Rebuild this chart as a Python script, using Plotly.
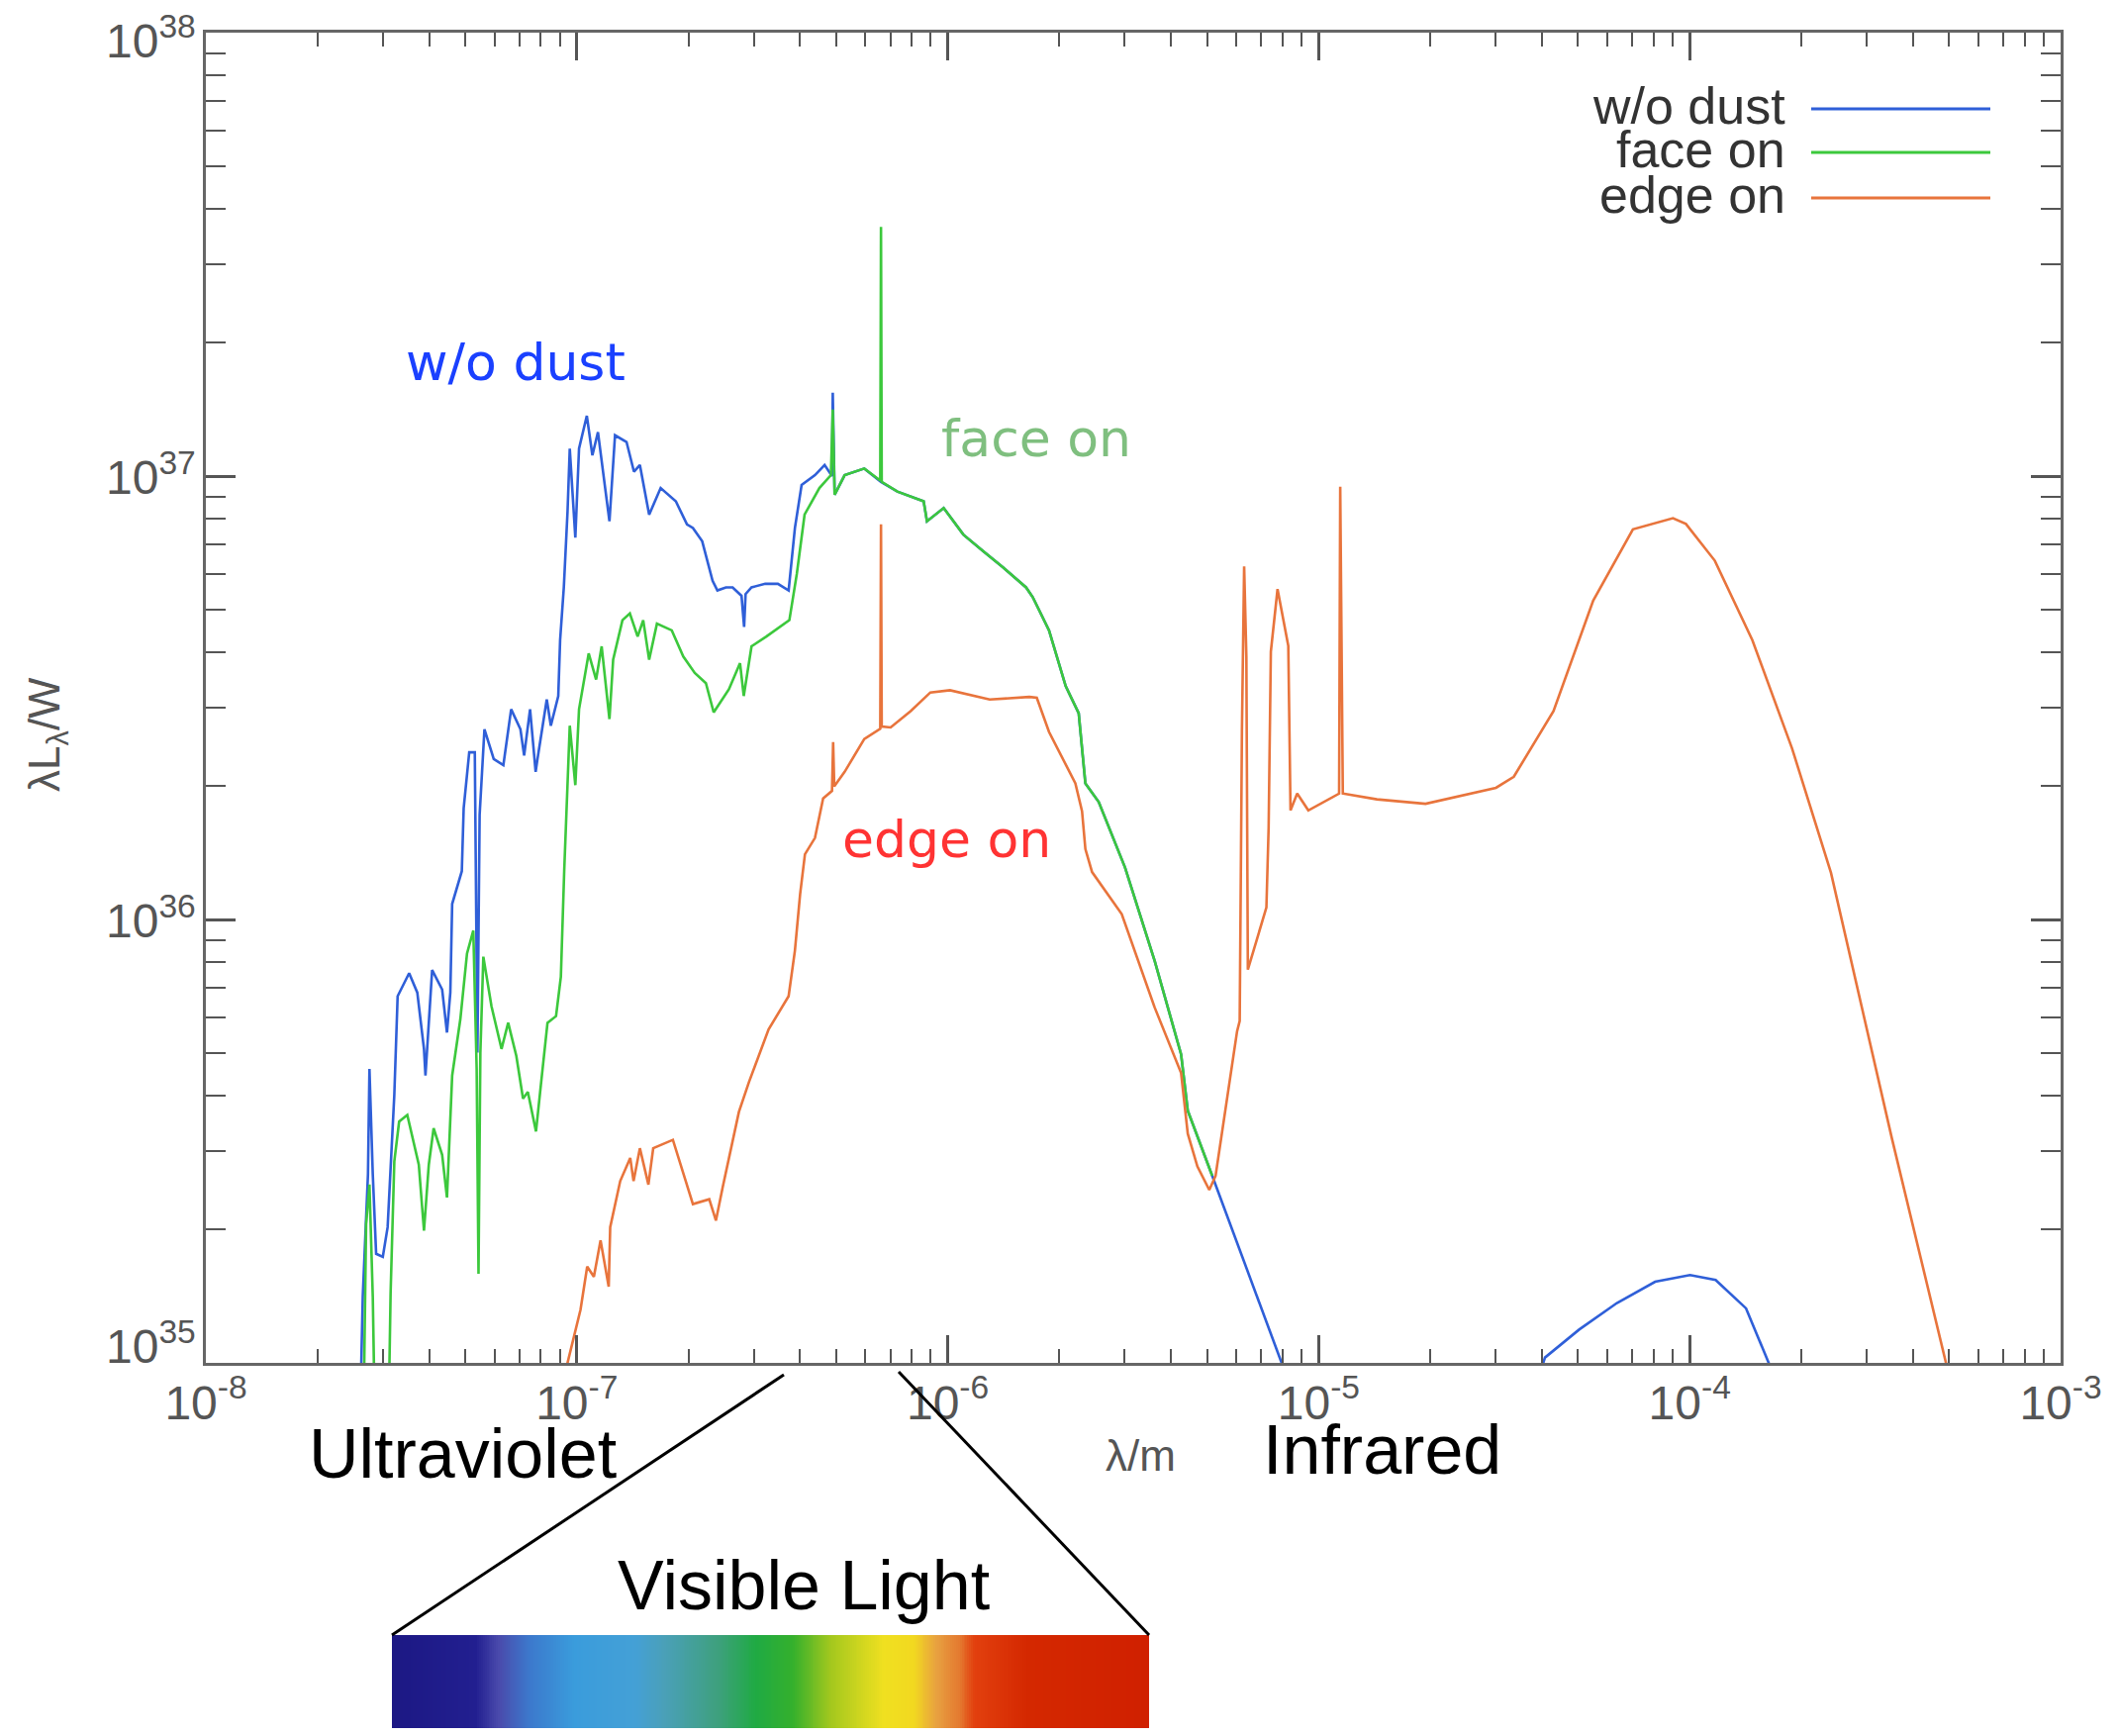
import numpy as np
import plotly.graph_objects as go

# ---------------- data (log10 of wavelength in m, log10 of lambda*L_lambda in W) -------------
wodust_log_lambda = [-7.590, -7.581, -7.577, -7.563, -7.559, -7.554, -7.550, -7.541, -7.523, -7.510,
                     -7.492, -7.483, -7.452, -7.430, -7.412, -7.408, -7.390, -7.363, -7.350, -7.341,
                     -7.336, -7.310, -7.305, -7.290, -7.275, -7.268, -7.262, -7.249, -7.224, -7.198,
                     -7.177, -7.152, -7.142, -7.126, -7.111, -7.106, -7.081, -7.070, -7.050, -7.045,
                     -7.035, -7.025, -7.019, -7.004, -6.994, -6.973, -6.958, -6.943, -6.912, -6.897,
                     -6.866, -6.846, -6.830, -6.805, -6.774, -6.733, -6.703, -6.687, -6.662, -6.634,
                     -6.621, -6.598, -6.580, -6.556, -6.549, -6.545, -6.529, -6.492, -6.458, -6.429,
                     -6.412, -6.394, -6.358, -6.332, -6.312, -6.310, -6.305, -6.278, -6.225, -6.180,
                     -6.136, -6.065, -6.056, -6.011, -5.958, -5.905, -5.851, -5.789, -5.771, -5.727,
                     -5.682, -5.647, -5.629, -5.593, -5.522, -5.442, -5.371, -5.353, -5.287, -5.100,
                     -5.090, -4.410, -4.390, -4.298, -4.196, -4.093, -3.999, -3.930, -3.848, -3.787,
                     -3.780]
wodust_log_L = [34.90, 35.000, 35.149, 35.425, 35.663, 35.514, 35.425, 35.246, 35.239, 35.306,
                35.604, 35.827, 35.879, 35.835, 35.708, 35.648, 35.886, 35.842, 35.745, 35.835,
                36.035, 36.109, 36.251, 36.377, 36.377, 35.700, 36.236, 36.429, 36.362, 36.348,
                36.474, 36.429, 36.370, 36.474, 36.333, 36.362, 36.496, 36.437, 36.504, 36.630,
                36.749, 36.920, 37.062, 36.861, 37.062, 37.136, 37.047, 37.099, 36.898, 37.092,
                37.077, 37.010, 37.025, 36.913, 36.973, 36.943, 36.891, 36.883, 36.853, 36.764,
                36.742, 36.749, 36.749, 36.730, 36.660, 36.734, 36.749, 36.757, 36.757, 36.742,
                36.883, 36.980, 37.002, 37.025, 37.000, 37.188, 36.958, 37.002, 37.017, 36.987,
                36.965, 36.943, 36.898, 36.928, 36.868, 36.831, 36.794, 36.749, 36.727, 36.652,
                36.526, 36.465, 36.307, 36.265, 36.117, 35.906, 35.696, 35.569, 35.422, 35.000,
                34.977, 34.960, 35.012, 35.075, 35.135, 35.183, 35.198, 35.187, 35.123, 35.000,
                34.980]

faceon_log_lambda = [-7.580, -7.573, -7.568, -7.559, -7.550, -7.546, -7.506, -7.502, -7.492, -7.479,
                     -7.457, -7.426, -7.412, -7.399, -7.386, -7.363, -7.350, -7.336, -7.314, -7.296,
                     -7.279, -7.270, -7.265, -7.260, -7.252, -7.230, -7.203, -7.185, -7.163, -7.145,
                     -7.132, -7.110, -7.097, -7.079, -7.056, -7.043, -7.034, -7.019, -7.004, -6.994,
                     -6.968, -6.948, -6.933, -6.912, -6.902, -6.877, -6.857, -6.836, -6.821, -6.805,
                     -6.784, -6.744, -6.713, -6.682, -6.652, -6.631, -6.590, -6.560, -6.550, -6.529,
                     -6.489, -6.427, -6.407, -6.386, -6.346, -6.315, -6.310, -6.305, -6.278, -6.225,
                     -6.182, -6.180, -6.178, -6.136, -6.065, -6.056, -6.011, -5.958, -5.905, -5.851,
                     -5.789, -5.771, -5.727, -5.682, -5.647, -5.629, -5.593, -5.522, -5.442, -5.371,
                     -5.353, -5.287]
faceon_log_L = [34.90, 35.000, 35.313, 35.402, 35.149, 34.950, 34.950, 35.157, 35.454, 35.544,
                35.559, 35.447, 35.298, 35.447, 35.529, 35.469, 35.373, 35.648, 35.775, 35.923,
                35.975, 35.663, 35.201, 35.700, 35.916, 35.804, 35.708, 35.767, 35.692, 35.596,
                35.611, 35.522, 35.626, 35.767, 35.782, 35.871, 36.109, 36.437, 36.303, 36.474,
                36.600, 36.541, 36.616, 36.452, 36.586, 36.675, 36.690, 36.638, 36.675, 36.586,
                36.667, 36.652, 36.593, 36.556, 36.533, 36.467, 36.519, 36.578, 36.504, 36.616,
                36.638, 36.675, 36.779, 36.913, 36.973, 37.002, 37.150, 36.958, 37.002, 37.017,
                36.990, 37.562, 36.987, 36.965, 36.943, 36.898, 36.928, 36.868, 36.831, 36.794,
                36.749, 36.727, 36.652, 36.526, 36.465, 36.307, 36.265, 36.117, 35.906, 35.696,
                35.569, 35.422]

edgeon_log_lambda = [-7.030, -7.025, -6.990, -6.972, -6.954, -6.936, -6.914, -6.910, -6.883, -6.856,
                     -6.847, -6.830, -6.807, -6.794, -6.741, -6.687, -6.643, -6.625, -6.607, -6.572,
                     -6.563, -6.536, -6.483, -6.429, -6.412, -6.398, -6.385, -6.358, -6.336, -6.312,
                     -6.309, -6.306, -6.278, -6.225, -6.182, -6.180, -6.178, -6.154, -6.100, -6.047,
                     -5.994, -5.887, -5.780, -5.760, -5.727, -5.656, -5.638, -5.629, -5.611, -5.531,
                     -5.442, -5.371, -5.353, -5.327, -5.295, -5.278, -5.220, -5.213, -5.207, -5.201,
                     -5.195, -5.191, -5.141, -5.135, -5.129, -5.111, -5.094, -5.082, -5.076, -5.058,
                     -5.028, -4.963, -4.945, -4.942, -4.935, -4.843, -4.712, -4.522, -4.474, -4.367,
                     -4.260, -4.153, -4.045, -4.010, -3.932, -3.831, -3.724, -3.619, -3.539, -3.455,
                     -3.309, -3.300]
edgeon_log_L = [34.90, 35.000, 35.120, 35.217, 35.194, 35.276, 35.172, 35.306, 35.410, 35.462,
                35.410, 35.484, 35.402, 35.484, 35.503, 35.358, 35.369, 35.321, 35.395, 35.529,
                35.566, 35.633, 35.752, 35.827, 35.930, 36.057, 36.147, 36.184, 36.273, 36.290,
                36.400, 36.300, 36.333, 36.407, 36.430, 36.891, 36.435, 36.433, 36.470, 36.512,
                36.517, 36.496, 36.502, 36.500, 36.423, 36.307, 36.244, 36.159, 36.107, 36.012,
                35.801, 35.654, 35.517, 35.443, 35.390, 35.422, 35.748, 35.771, 36.425, 36.796,
                36.592, 35.887, 36.027, 36.207, 36.604, 36.745, 36.668, 36.617, 36.246, 36.284,
                36.246, 36.277, 36.284, 36.976, 36.284, 36.271, 36.261, 36.297, 36.322, 36.470,
                36.719, 36.880, 36.905, 36.892, 36.809, 36.630, 36.386, 36.105, 35.810, 35.507,
                35.000, 34.970]

series_names = ["w/o dust", "face on", "edge on"]
x_tick_exponents = [-8, -7, -6, -5, -4, -3]
y_tick_exponents = [35, 36, 37, 38]

# visible spectrum colour stops (fraction across bar, colour)
spectrum_stops = [(0.00, "#1c1884"), (0.11, "#221f90"), (0.14, "#4a4aac"), (0.18, "#3c78cc"),
                  (0.24, "#3a9cdc"), (0.32, "#44a0d6"), (0.36, "#4aa0b8"), (0.43, "#3ea07e"),
                  (0.48, "#20aa44"), (0.53, "#34b02c"), (0.58, "#a4c81e"), (0.65, "#f0e020"),
                  (0.69, "#f2d820"), (0.72, "#e8a040"), (0.75, "#e47a30"), (0.77, "#e2400e"),
                  (0.84, "#d42800"), (1.00, "#d02000")]

colors = {"w/o dust": "#2f5fd8", "face on": "#3cc83c", "edge on": "#e8743c"}

# ---------------- figure geometry (page has an 8px body margin) ----------------
BODY = 8
W, H = 2141 - 2 * BODY, 1754 - 2 * BODY
L_M, T_M = 208 - BODY, 33 - BODY
R_M = (BODY + W) - 2082
PW = W - L_M - R_M
PH = H - T_M
AX_TOP, AX_BOTTOM = 33, 1377  # page pixel y of the top and bottom axes


def px(X):
    return (X - BODY - L_M) / PW


def py(Y):
    return (BODY + H - Y) / PH


def ypix_of_exp(e):
    return AX_BOTTOM - (e - 35) / 3 * (AX_BOTTOM - AX_TOP)


fig = go.Figure()

for name, lx, ly in [("w/o dust", wodust_log_lambda, wodust_log_L),
                     ("face on", faceon_log_lambda, faceon_log_L),
                     ("edge on", edgeon_log_lambda, edgeon_log_L)]:
    fig.add_trace(go.Scatter(x=[10 ** v for v in lx], y=[10 ** v for v in ly], mode="lines",
                             name=name, line=dict(color=colors[name], width=2.6),
                             showlegend=False, xaxis="x", yaxis="y"))

# spectrum bar as heatmap
cs = [[p, c] for p, c in spectrum_stops]
zrow = list(np.linspace(0, 1, 400))
fig.add_trace(go.Heatmap(z=[zrow, zrow], colorscale=cs, zmin=0, zmax=1, showscale=False,
                         xaxis="x2", yaxis="y2", hoverinfo="skip"))

minor_x = [d * 10.0 ** e for e in range(-8, -3) for d in range(2, 10)]
minor_y = [d * 10.0 ** e for e in range(35, 38) for d in range(2, 10)]

tickfont = dict(family="Liberation Sans, Arial, sans-serif", size=48, color="#555555")
axis_common = dict(type="log", showgrid=False, zeroline=False, showline=True, linecolor="#666666",
                   linewidth=3, mirror="allticks", ticks="inside", tickcolor="#555555",
                   tickwidth=2.5, tickfont=tickfont, ticklabeloverflow="allow", automargin=False)

fig.update_layout(
    width=W, height=H,
    margin=dict(l=L_M, r=R_M, t=T_M, b=0, pad=0, autoexpand=False),
    paper_bgcolor="white", plot_bgcolor="white",
    showlegend=False,
    xaxis=dict(axis_common, range=[-8.00001, -2.99999], domain=[0, 1], anchor="y",
               tickmode="array", tickvals=[10.0 ** e for e in x_tick_exponents],
               ticktext=[f"10<sup>{e}</sup>" for e in x_tick_exponents], ticklen=28,
               ticklabelstandoff=-4,
               minor=dict(tickmode="array", tickvals=minor_x, ticks="inside", ticklen=14,
                          tickwidth=2, tickcolor="#555555", showgrid=False)),
    yaxis=dict(axis_common, range=[34.99999, 38.00001], domain=[py(AX_BOTTOM), 1], anchor="x",
               tickmode="array", tickvals=[10.0 ** e for e in y_tick_exponents],
               showticklabels=False, ticklen=30,
               minor=dict(tickmode="array", tickvals=minor_y, ticks="inside", ticklen=20,
                          tickwidth=2, tickcolor="#555555", showgrid=False)),
    xaxis2=dict(domain=[px(396), px(1161)], anchor="y2", range=[-0.5, 399.5], visible=False,
                fixedrange=True, automargin=False),
    yaxis2=dict(domain=[0, py(1652)], anchor="x2", range=[-0.5, 1.5], visible=False,
                fixedrange=True, automargin=False),
)

ann = []
# y tick labels (kept inside the axis span like the original: end labels nudged inward)
label_nudge = {35: -20, 36: -2, 37: -2, 38: 5}
for e in y_tick_exponents:
    ann.append(dict(x=px(200), y=py(ypix_of_exp(e) + label_nudge[e]), text=f"10<sup>{e}</sup>",
                    xanchor="right", font=tickfont))
# in-plot labels
ann.append(dict(x=px(521), y=py(366), text="w/o dust", font=dict(family="DejaVu Sans", size=52, color="#1a40ff")))
ann.append(dict(x=px(1047), y=py(443), text="face on", font=dict(family="DejaVu Sans", size=52, color="#7fbf7f")))
ann.append(dict(x=px(956), y=py(848), text="edge on", font=dict(family="DejaVu Sans", size=52, color="#ff3333")))
# axis titles
ann.append(dict(x=px(1152), y=py(1470), text="λ/m", font=dict(family="Liberation Sans, Arial", size=44, color="#555555")))
ann.append(dict(x=px(48), y=py(742), text="λL<sub>λ</sub>/W", textangle=-90,
                font=dict(family="Liberation Sans, Arial", size=44, color="#555555")))
# region labels
big = dict(family="Liberation Sans, Arial", size=70, color="black")
ann.append(dict(x=px(467), y=py(1469), text="Ultraviolet", font=big))
ann.append(dict(x=px(1396), y=py(1465), text="Infrared", font=big))
ann.append(dict(x=px(812), y=py(1602), text="Visible Light", font=big))
# legend texts
legend_rows = [110, 154, 200]
for name, yy in zip(series_names, legend_rows):
    ann.append(dict(x=px(1806), y=py(yy - 3), text=name, xanchor="right",
                    font=dict(family="Liberation Sans, Arial", size=52, color="#333333")))

for a in ann:
    a.setdefault("xanchor", "center")
    a.update(xref="paper", yref="paper", yanchor="middle", showarrow=False)
fig.update_layout(annotations=ann)

shapes = []
for name, yy in zip(series_names, legend_rows):
    shapes.append(dict(type="line", xref="paper", yref="paper", x0=px(1830), x1=px(2011),
                       y0=py(yy), y1=py(yy), line=dict(color=colors[name], width=3)))
# lines from visible range on the axis to the spectrum bar
shapes.append(dict(type="line", xref="paper", yref="paper", x0=px(792), y0=py(1389),
                   x1=px(396), y1=py(1652), line=dict(color="black", width=3)))
shapes.append(dict(type="line", xref="paper", yref="paper", x0=px(908), y0=py(1386),
                   x1=px(1161), y1=py(1652), line=dict(color="black", width=3)))
fig.update_layout(shapes=shapes)

fig.write_html("out.html")
